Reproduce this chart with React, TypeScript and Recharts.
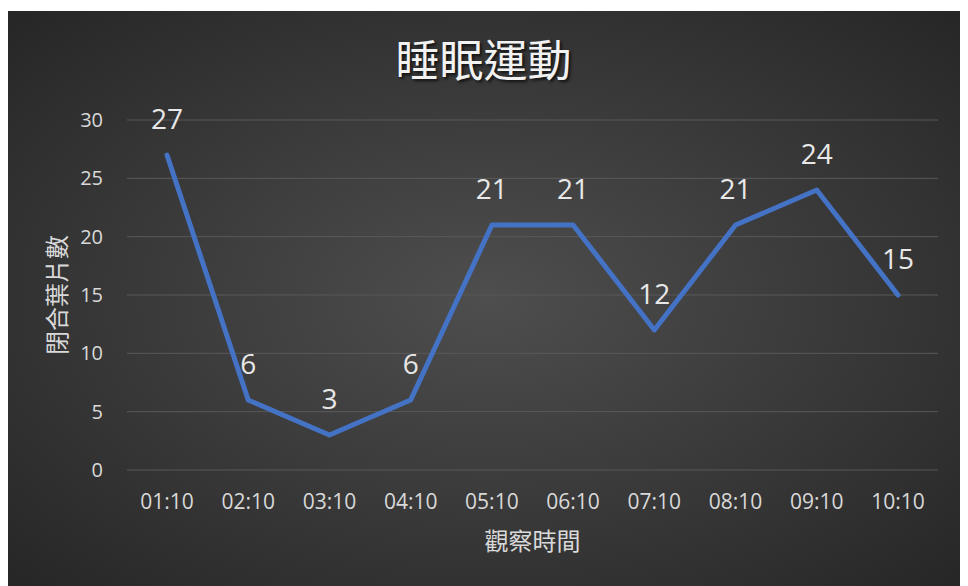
import { LineChart, Line, XAxis, YAxis, CartesianGrid, LabelList, Label } from "recharts";

const times = ["01:10", "02:10", "03:10", "04:10", "05:10", "06:10", "07:10", "08:10", "09:10", "10:10"];
const closedLeaves = [27, 6, 3, 6, 21, 21, 12, 21, 24, 15];
const yTicks = [0, 5, 10, 15, 20, 25, 30];

const data = times.map((t, i) => ({ time: t, count: closedLeaves[i] }));

const W = 961;
const H = 575;
const cjk = '"Noto Sans CJK TC", "Noto Sans", sans-serif';
const latin = '"Open Sans", "Noto Sans", sans-serif';

// custom ticks so the font size sticks
const XTick = (props: any) => {
  const { x, y, payload } = props;
  return (
    <text x={x} y={y + 39} textAnchor="middle" fill="#d9d9d9" fontSize={21} fontFamily={latin}>
      {payload.value}
    </text>
  );
};

const YTick = (props: any) => {
  const { x, y, payload } = props;
  return (
    <text x={x - 24} y={y + 7} textAnchor="end" fill="#d9d9d9" fontSize={20} fontFamily={latin}>
      {payload.value}
    </text>
  );
};

export default function App() {
  return (
    <div
      style={{
        position: "relative",
        width: W,
        height: H,
        marginLeft: -1,
        marginTop: 3,
        background: "radial-gradient(ellipse at 50% 50%, #4e4e4e 0%, #3a3a3a 50%, #262626 100%)",
      }}
    >
      <div
        style={{
          position: "absolute",
          left: -4,
          width: W,
          top: 21,
          textAlign: "center",
          fontFamily: cjk,
          fontSize: 44,
          color: "#f2f2f2",
          textShadow: "2px 2px 3px rgba(0,0,0,0.7)",
          lineHeight: "52px",
        }}
      >
        睡眠運動
      </div>
      <LineChart width={W} height={H} data={data} margin={{ top: 109, right: 30, bottom: 0, left: 0 }}>
        <CartesianGrid vertical={false} stroke="#595959" strokeWidth={1} />
        <XAxis
          dataKey="time"
          axisLine={false}
          tickLine={false}
          tickSize={0}
          tickMargin={0}
          height={116}
          padding={{ left: 40, right: 40 }}
          tick={<XTick />}
        >
          <Label
            value="觀察時間"
            position="insideBottom"
            offset={36}
            style={{ fill: "#d9d9d9", fontSize: 24, fontFamily: cjk }}
          />
        </XAxis>
        <YAxis
          domain={[0, 30]}
          ticks={yTicks}
          axisLine={false}
          tickLine={false}
          tickSize={0}
          tickMargin={0}
          width={120}
          tick={<YTick />}
        >
          <Label
            value="閉合葉片數"
            angle={-90}
            position="insideLeft"
            offset={50}
            style={{ fill: "#d9d9d9", fontSize: 24, fontFamily: cjk, textAnchor: "middle" }}
          />
        </YAxis>
        <Line
          type="linear"
          dataKey="count"
          stroke="#4472c4"
          strokeWidth={5}
          strokeLinejoin="round"
          strokeLinecap="round"
          dot={false}
          isAnimationActive={false}
        >
          <LabelList
            dataKey="count"
            position="top"
            offset={26}
            style={{ fill: "#e8e8e8", fontSize: 28, fontFamily: latin }}
          />
        </Line>
      </LineChart>
    </div>
  );
}
